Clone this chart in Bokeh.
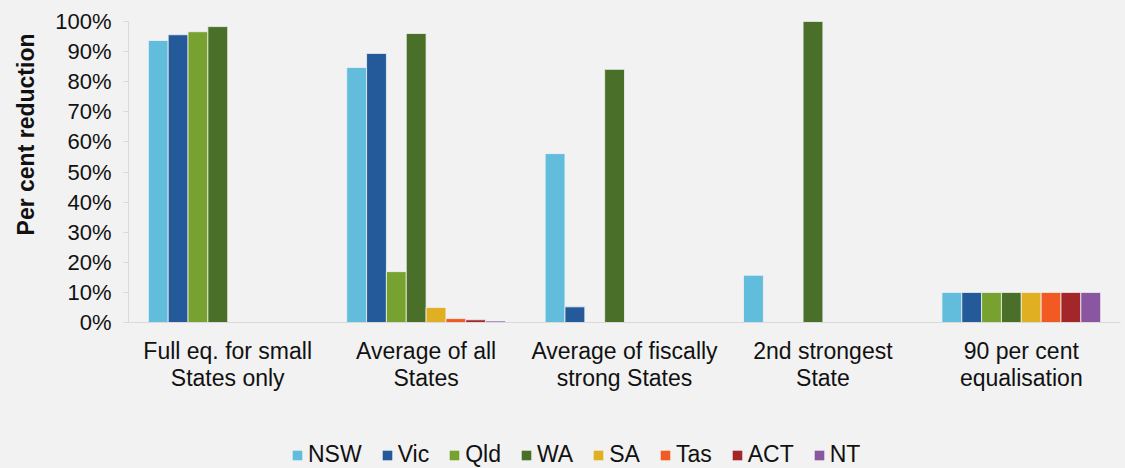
from bokeh.plotting import figure
from bokeh.layouts import column
from bokeh.models import (ColumnDataSource, FactorRange, Range1d, FixedTicker, PrintfTickFormatter,
                          Legend, LegendItem, Title)
from bokeh.transform import dodge
from bokeh.embed import file_html
from bokeh.resources import INLINE

categories = ["Full eq. for small\nStates only", "Average of all\nStates",
              "Average of fiscally\nstrong States", "2nd strongest\nState",
              "90 per cent\nequalisation"]
states = ["NSW", "Vic", "Qld", "WA", "SA", "Tas", "ACT", "NT"]
nsw = [93.7, 84.7, 56.1, 15.7, 10]
vic = [95.6, 89.4, 5.2, 0, 10]
qld = [96.6, 16.9, 0, 0, 10]
wa = [98.3, 96.0, 84.1, 100, 10]
sa = [0, 5.0, 0, 0, 10]
tas = [0, 1.3, 0, 0, 10]
act = [0, 0.9, 0, 0, 10]
nt = [0, 0.5, 0, 0, 10]
series = [nsw, vic, qld, wa, sa, tas, act, nt]
colors = ["#62bcdc", "#245a9a", "#78a22f", "#4a6f28", "#e0b022", "#f25a23", "#a2262a", "#8a56a2"]
y_ticks = [0, 10, 20, 30, 40, 50, 60, 70, 80, 90, 100]

src = ColumnDataSource(dict(cat=categories, **{s: v for s, v in zip(states, series)}))

FONT = "Liberation Sans"
BG = "#f2f2f2"
TXT = "#111111"

p = figure(x_range=FactorRange(*categories), y_range=Range1d(0, 100),
           width=1125, height=440, output_backend="svg", toolbar_location=None,
           min_border_left=128, min_border_right=5, min_border_top=21, min_border_bottom=118)
p.background_fill_color = BG
p.border_fill_color = BG
p.outline_line_color = None
p.xgrid.grid_line_color = None
p.ygrid.grid_line_color = None

bw = 0.1
for i, (s, c) in enumerate(zip(states, colors)):
    off = -0.35 + bw * i
    p.vbar(x=dodge("cat", off, range=p.x_range), top=s, width=bw, source=src,
           fill_color=c, line_color=BG, line_width=0.8)

p.yaxis.ticker = FixedTicker(ticks=y_ticks)
p.yaxis.formatter = PrintfTickFormatter(format="%d%%")
p.yaxis.axis_line_color = "#d9d9d9"
p.yaxis.major_tick_line_color = "#d9d9d9"
p.yaxis.major_tick_out = 5
p.yaxis.major_tick_in = 0
p.yaxis.minor_tick_line_color = None
p.yaxis.major_label_standoff = 12
p.yaxis.major_label_text_font = FONT
p.yaxis.major_label_text_font_size = "22px"
p.yaxis.major_label_text_color = TXT

ytitle = Title(text="Per cent reduction", align="right", offset=12,
               vertical_align="top", standoff=24,
               text_font=FONT, text_font_style="bold", text_font_size="23px", text_color=TXT)
p.add_layout(ytitle, "left")

p.xaxis.axis_line_color = "#d9d9d9"
p.xaxis.major_tick_line_color = None
p.xaxis.minor_tick_line_color = None
p.xaxis.major_label_standoff = 9
p.xaxis.major_label_text_font = FONT
p.xaxis.major_label_text_font_size = "23px"
p.xaxis.major_label_text_color = TXT
p.xaxis.major_label_text_line_height = 1.05

# legend strip below the chart (its renderers are hidden; only the legend shows)
lg = figure(width=1125, height=28, x_range=p.x_range, y_range=Range1d(-1000, -999),
            output_backend="svg", toolbar_location=None,
            x_axis_location=None, y_axis_location=None,
            min_border_left=0, min_border_right=0, min_border_top=0, min_border_bottom=0)
lg.background_fill_color = BG
lg.border_fill_color = BG
lg.outline_line_color = None
lg.xgrid.grid_line_color = None
lg.ygrid.grid_line_color = None
items = []
for i, (s, c) in enumerate(zip(states, colors)):
    off = -0.35 + bw * i
    r = lg.vbar(x=dodge("cat", off, range=p.x_range), top=s, width=bw, source=src,
                fill_color=c, line_color=None, visible=False)
    items.append(LegendItem(label=s, renderers=[r]))
legend = Legend(items=items, orientation="horizontal", location=(163, 0),
                background_fill_alpha=0, border_line_color=None,
                inactive_fill_alpha=0,
                glyph_width=12, glyph_height=12, label_standoff=5, spacing=19,
                padding=0, margin=0,
                label_text_font=FONT, label_text_font_size="23px", label_text_color=TXT)
lg.add_layout(legend, "center")

layout = column(p, lg, spacing=0, styles={"background-color": BG})
open("out.html", "w").write(file_html(layout, INLINE))
